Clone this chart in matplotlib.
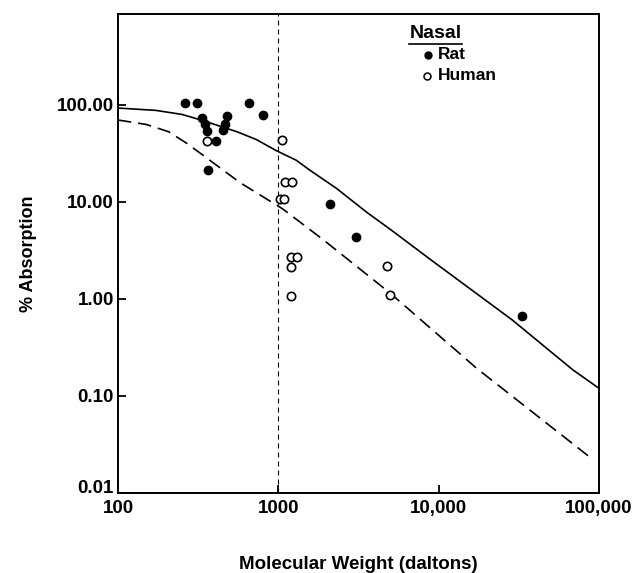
import matplotlib
matplotlib.use("Agg")
import matplotlib.pyplot as plt
from matplotlib.ticker import FixedLocator, FixedFormatter, NullLocator
from matplotlib.transforms import ScaledTranslation

plt.rcParams['font.family'] = ['Liberation Sans', 'DejaVu Sans']
plt.rcParams['font.weight'] = 'bold'
plt.rcParams['axes.labelweight'] = 'bold'

# Nasal absorption vs molecular weight
rat_mw = [262, 309, 659, 802, 335, 351, 359, 410, 366, 480, 462, 453, 2114, 3055, 32900]
rat_abs = [106, 106, 106, 79, 73, 64, 54, 42.5, 21.4, 77, 64, 55, 9.5, 4.38, 0.668]

human_mw = [357, 1052, 1099, 1217, 1022, 1083, 1199, 1303, 1199, 1199, 4775, 4966]
human_abs = [42.5, 43.5, 16.1, 16.1, 10.7, 10.7, 2.69, 2.69, 2.12, 1.08, 2.19, 1.09]

# Fitted curves
rat_fit_mw = [100, 172, 250, 330, 552, 730, 966, 1290, 1565, 2307, 3572, 5010, 8980,
              28700, 68700, 100000]
rat_fit_abs = [93, 88, 80, 70, 53, 44, 34, 27, 21.4, 13.8, 7.8, 5.2, 2.52,
               0.61, 0.186, 0.12]

human_fit_mw = [100, 150, 207, 270, 362, 578, 1063, 1900, 5010, 17250, 92000]
human_fit_abs = [70, 63, 53, 40, 28, 15.8, 8.5, 4.1, 1.14, 0.193, 0.022]

cutoff_mw = 1000

x_ticks = [100, 1000, 10000, 100000]
x_labels = ["100", "1000", "10,000", "100,000"]
y_ticks = [0.01, 0.1, 1, 10, 100]
y_labels = ["0.01", "0.10", "1.00", "10.00", "100.00"]

W, H = 639, 573
fig = plt.figure(figsize=(W / 100, H / 100), dpi=100)
ax = fig.add_axes([118 / W, 1 - 493 / H, 481 / W, 479 / H])
ax.set_xscale('log')
ax.set_yscale('log')
ax.set_xlim(100, 100000)
ax.set_ylim(0.01, 867)

ax.axvline(cutoff_mw, color='black', lw=0.8, ls=(0, (4.5, 3.6)), zorder=1)
ax.plot(rat_fit_mw, rat_fit_abs, color='black', lw=1.2, zorder=2)
ax.plot(human_fit_mw, human_fit_abs, color='black', lw=1.2,
        ls=(0, (8, 4.2)), zorder=2)

ax.plot(rat_mw, rat_abs, 'o', ms=6, mfc='black', mec='black', zorder=3)
ax.plot(human_mw, human_abs, 'o', ms=6, mfc='white', mec='black',
        mew=1.2, zorder=3)

ax.xaxis.set_major_locator(FixedLocator(x_ticks))
ax.xaxis.set_major_formatter(FixedFormatter(x_labels))
ax.yaxis.set_major_locator(FixedLocator(y_ticks))
ax.yaxis.set_major_formatter(FixedFormatter(y_labels))
ax.xaxis.set_minor_locator(NullLocator())
ax.yaxis.set_minor_locator(NullLocator())
ax.tick_params(direction='in', length=6, width=1.3, labelsize=13.5)
ax.tick_params(axis='x', pad=5)
ax.tick_params(axis='y', pad=3)
for s in ax.spines.values():
    s.set_linewidth(1.4)

# lift the lowest y label so it sits above the corner
fig.canvas.draw()
low = ax.yaxis.get_majorticklabels()[0]
low.set_transform(low.get_transform() + ScaledTranslation(0, 5 / 72, fig.dpi_scale_trans))

ax.set_xlabel("Molecular Weight (daltons)", fontsize=13.5, labelpad=28)
ax.set_ylabel("% Absorption", fontsize=13, labelpad=14)

# Legend
ax.text(0.660, 0.960, "Nasal", transform=ax.transAxes, fontsize=14,
        ha='center', va='center')
ax.plot([0.604, 0.716], [0.937, 0.937], transform=ax.transAxes,
        color='black', lw=1.2, clip_on=False)
ax.plot([0.644], [0.915], 'o', ms=5, mfc='black', mec='black',
        transform=ax.transAxes)
ax.text(0.664, 0.915, "Rat", transform=ax.transAxes, fontsize=12.5,
        ha='left', va='center')
ax.plot([0.642], [0.871], 'o', ms=5, mfc='white', mec='black', mew=1.1,
        transform=ax.transAxes)
ax.text(0.664, 0.871, "Human", transform=ax.transAxes, fontsize=12.5,
        ha='left', va='center')

fig.savefig("out.png", dpi=100)
